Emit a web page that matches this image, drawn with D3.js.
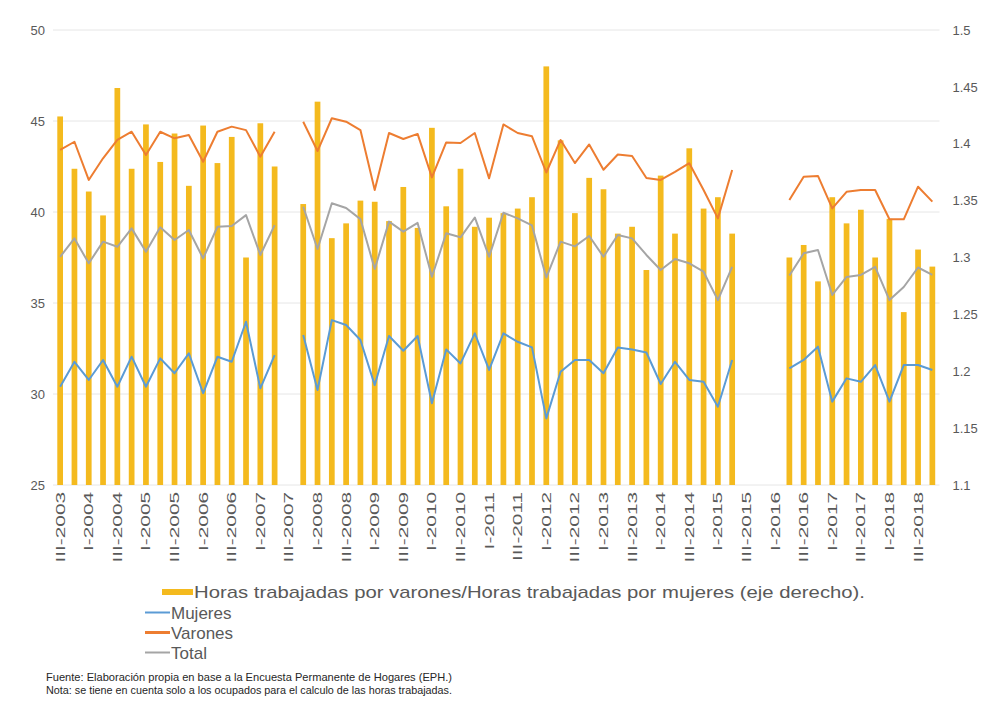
<!DOCTYPE html>
<html>
<head>
<meta charset="utf-8">
<script src="https://cdn.jsdelivr.net/npm/d3@7"></script>
<style>
  body { margin: 0; background: #fff; }
  text { font-family: "Liberation Sans", Arial, sans-serif; }
</style>
</head>
<body>
<div id="chart"></div>
<script>
// quarters on the x axis (III-2003 .. IV-2018)
var quarters = [
  "III-2003","IV-2003",
  "I-2004","II-2004","III-2004","IV-2004",
  "I-2005","II-2005","III-2005","IV-2005",
  "I-2006","II-2006","III-2006","IV-2006",
  "I-2007","II-2007","III-2007","IV-2007",
  "I-2008","II-2008","III-2008","IV-2008",
  "I-2009","II-2009","III-2009","IV-2009",
  "I-2010","II-2010","III-2010","IV-2010",
  "I-2011","II-2011","III-2011","IV-2011",
  "I-2012","II-2012","III-2012","IV-2012",
  "I-2013","II-2013","III-2013","IV-2013",
  "I-2014","II-2014","III-2014","IV-2014",
  "I-2015","II-2015","III-2015","IV-2015",
  "I-2016","II-2016","III-2016","IV-2016",
  "I-2017","II-2017","III-2017","IV-2017",
  "I-2018","II-2018","III-2018","IV-2018"
];

// horas varones / horas mujeres (eje derecho)
var ratio = [
  1.424, 1.378,
  1.358, 1.337, 1.449, 1.378,
  1.417, 1.384, 1.409, 1.363,
  1.416, 1.383, 1.406, 1.300,
  1.418, 1.380, null, 1.347,
  1.437, 1.317, 1.330, 1.350,
  1.349, 1.332, 1.362, 1.326,
  1.414, 1.345, 1.378, 1.327,
  1.335, 1.339, 1.343, 1.353,
  1.468, 1.403, 1.339, 1.370,
  1.360, 1.321, 1.327, 1.289,
  1.372, 1.321, 1.396, 1.343,
  1.353, 1.321, null, null,
  null, 1.300, 1.311, 1.279,
  1.353, 1.330, 1.342, 1.300,
  1.334, 1.252, 1.307, 1.292
];

var mujeres = [
  30.40, 31.77,
  30.77, 31.87, 30.40, 32.05,
  30.40, 31.96, 31.14, 32.23,
  30.04, 32.05, 31.77, 33.97,
  30.31, 32.14, null, 33.24,
  30.22, 34.06, 33.79, 32.97,
  30.49, 33.19, 32.38, 33.19,
  29.49, 32.45, 31.68, 33.33,
  31.32, 33.33, 32.87, 32.56,
  28.66, 31.22, 31.87, 31.87,
  31.14, 32.56, 32.45, 32.28,
  30.55, 31.77, 30.77, 30.67,
  29.30, 31.87, null, null,
  null, 31.41, 31.87, 32.60,
  29.58, 30.86, 30.67, 31.59,
  29.58, 31.59, 31.59, 31.32
];

var varones = [
  43.41, 43.86,
  41.76, 42.95, 43.96, 44.41,
  43.13, 44.41, 44.05, 44.23,
  42.76, 44.41, 44.69, 44.50,
  43.04, 44.41, null, 44.96,
  43.35, 45.15, 44.96, 44.50,
  41.21, 44.34, 44.01, 44.29,
  41.90, 43.82, 43.79, 44.34,
  41.85, 44.81, 44.34, 44.16,
  42.17, 43.96, 42.69, 43.71,
  42.32, 43.16, 43.08, 41.87,
  41.76, 42.20, 42.68, 41.21,
  39.65, 42.31, null, null,
  null, 40.66, 41.94, 41.98,
  40.20, 41.11, 41.21, 41.21,
  39.60, 39.60, 41.39, 40.57
];

var total = [
  37.54, 38.55,
  37.18, 38.37, 38.09, 39.10,
  37.82, 39.16, 38.46, 39.01,
  37.45, 39.19, 39.23, 39.83,
  37.64, 39.28, null, 40.29,
  37.97, 40.48, 40.22, 39.61,
  36.87, 39.47, 38.92, 39.40,
  36.44, 38.83, 38.61, 39.70,
  37.54, 39.96, 39.65, 39.26,
  36.40, 38.37, 38.11, 38.68,
  37.54, 38.74, 38.55, 37.64,
  36.81, 37.42, 37.18, 36.72,
  35.16, 36.99, null, null,
  null, 36.51, 37.73, 37.91,
  35.44, 36.43, 36.54, 36.99,
  35.16, 35.88, 36.95, 36.55
];

var leftTicks = [25, 30, 35, 40, 45, 50];
var rightTicks = [1.1, 1.15, 1.2, 1.25, 1.3, 1.35, 1.4, 1.45, 1.5];

var W = 999, H = 707;
var plot = {left: 53, right: 939.5, top: 30, bottom: 485};

var colors = {
  ratio: "#f4ba1e",
  mujeres: "#5b9bd5",
  varones: "#ed7d31",
  total: "#a5a5a5"
};

var svg = d3.select("#chart").append("svg")
  .attr("width", W)
  .attr("height", H);

var x = d3.scaleBand()
  .domain(quarters)
  .range([plot.left, plot.right])
  .paddingInner(0.6)
  .paddingOuter(0.3);

var yL = d3.scaleLinear().domain([25, 50]).range([plot.bottom, plot.top]);
var yR = d3.scaleLinear().domain([1.1, 1.5]).range([plot.bottom, plot.top]);

// gridlines
svg.append("g")
  .selectAll("line")
  .data(leftTicks)
  .enter().append("line")
    .attr("x1", plot.left)
    .attr("x2", plot.right)
    .attr("y1", function(d) { return yL(d); })
    .attr("y2", function(d) { return yL(d); })
    .attr("stroke", "#e6e6e6")
    .attr("stroke-width", 1);

// bars (right axis)
svg.append("g")
  .selectAll("rect")
  .data(quarters.map(function(q, i) { return {q: q, v: ratio[i]}; })
    .filter(function(d) { return d.v != null; }))
  .enter().append("rect")
    .attr("x", function(d) { return x(d.q); })
    .attr("y", function(d) { return yR(d.v); })
    .attr("width", x.bandwidth())
    .attr("height", function(d) { return yR(1.1) - yR(d.v); })
    .attr("fill", colors.ratio);

// lines (left axis)
var line = d3.line()
  .defined(function(d) { return d.v != null; })
  .x(function(d) { return x(d.q) + x.bandwidth() / 2; })
  .y(function(d) { return yL(d.v); });

[["mujeres", mujeres], ["varones", varones], ["total", total]].forEach(function(s) {
  svg.append("path")
    .datum(quarters.map(function(q, i) { return {q: q, v: s[1][i]}; }))
    .attr("fill", "none")
    .attr("stroke", colors[s[0]])
    .attr("stroke-width", 2)
    .attr("stroke-linejoin", "round")
    .attr("d", line);
});

// left axis
var gL = svg.append("g")
  .attr("transform", "translate(" + plot.left + ",0)")
  .call(d3.axisLeft(yL).tickValues(leftTicks).tickSize(0).tickPadding(8));
gL.select(".domain").remove();
gL.selectAll("text").attr("font-size", 13).attr("fill", "#595959")
  .style("font-family", "'Liberation Sans', Arial, sans-serif");

// right axis
var gR = svg.append("g")
  .attr("transform", "translate(" + plot.right + ",0)")
  .call(d3.axisRight(yR).tickValues(rightTicks).tickSize(0).tickPadding(13)
    .tickFormat(function(d) { return String(d); }));
gR.select(".domain").remove();
gR.selectAll("text").attr("font-size", 13).attr("fill", "#595959")
  .style("font-family", "'Liberation Sans', Arial, sans-serif");

// bottom axis, every second quarter
var gB = svg.append("g")
  .attr("transform", "translate(0," + plot.bottom + ")")
  .call(d3.axisBottom(x)
    .tickValues(quarters.filter(function(d, i) { return i % 2 === 0; }))
    .tickSize(0));
gB.select(".domain").remove();
gB.selectAll("text")
  .attr("x", 0)
  .attr("y", 0)
  .attr("dy", "0.35em")
  .attr("text-anchor", "end")
  .attr("transform", "rotate(-90) translate(-7,0) scale(1.6,1)")
  .attr("font-size", 13)
  .attr("fill", "#595959")
  .style("font-family", "'Liberation Sans', Arial, sans-serif");

// legend
var lg = svg.append("g").attr("font-size", 17).attr("fill", "#595959");
lg.append("rect")
  .attr("x", 162).attr("y", 589).attr("width", 31).attr("height", 6)
  .attr("fill", colors.ratio);
lg.append("text")
  .attr("x", 194).attr("y", 598)
  .attr("textLength", 671).attr("lengthAdjust", "spacingAndGlyphs")
  .text("Horas trabajadas por varones/Horas trabajadas por mujeres (eje derecho).");

var legendLines = [
  {key: "mujeres", label: "Mujeres"},
  {key: "varones", label: "Varones"},
  {key: "total", label: "Total"}
];
legendLines.forEach(function(d, i) {
  var cy = 612.5 + i * 20;
  lg.append("line")
    .attr("x1", 145).attr("x2", 170)
    .attr("y1", cy).attr("y2", cy)
    .attr("stroke", colors[d.key])
    .attr("stroke-width", d.key === "varones" ? 3 : 2);
  lg.append("text")
    .attr("x", 171).attr("y", cy + 6)
    .text(d.label);
});

// source notes
var notes = svg.append("g").attr("font-size", 10.5).attr("fill", "#262626")
  .style("font-family", "'Liberation Sans Narrow', 'Liberation Sans', Arial, sans-serif");
notes.append("text")
  .attr("x", 46).attr("y", 681)
  .attr("textLength", 406).attr("lengthAdjust", "spacingAndGlyphs")
  .text("Fuente: Elaboración propia en base a la Encuesta Permanente de Hogares (EPH.)");
notes.append("text")
  .attr("x", 46).attr("y", 694)
  .attr("textLength", 406).attr("lengthAdjust", "spacingAndGlyphs")
  .text("Nota: se tiene en cuenta solo a los ocupados para el calculo de las horas trabajadas.");
</script>
</body>
</html>
